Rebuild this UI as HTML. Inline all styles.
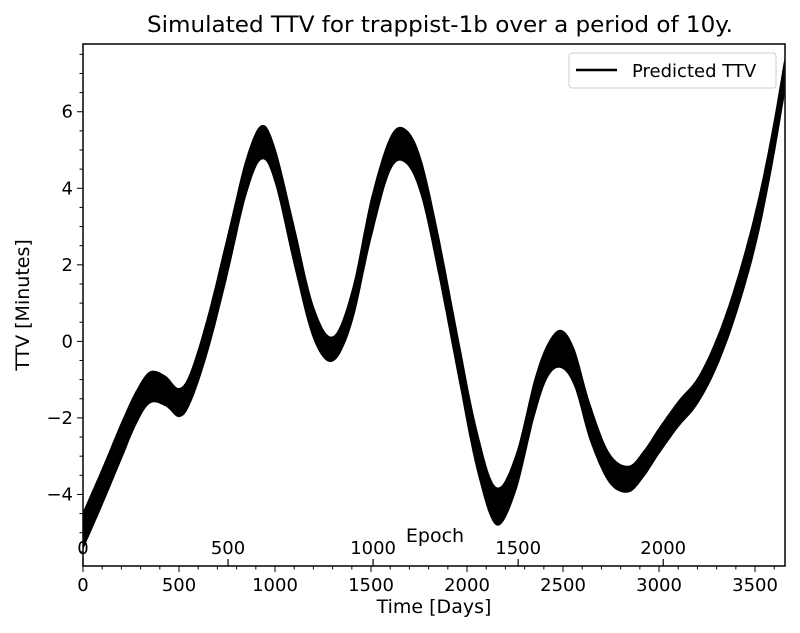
<!DOCTYPE html>
<html><head><meta charset="utf-8"><style>
html,body{margin:0;padding:0;background:#fff;}
svg{display:block;font-family:"DejaVu Sans","Liberation Sans",sans-serif;}
</style></head><body>
<svg id="chart" width="800" height="633" viewBox="0 0 800 633">
<text x="440" y="32" font-size="22" text-anchor="middle" textLength="586" lengthAdjust="spacingAndGlyphs">Simulated TTV for trappist-1b over a period of 10y.</text>
<g id="plot"></g>
<g id="axes"></g>
<text x="434" y="613" font-size="19" text-anchor="middle">Time [Days]</text>
<text x="29" y="305" font-size="19" text-anchor="middle" transform="rotate(-90 29 305)">TTV [Minutes]</text>
<text x="435" y="542" font-size="19" text-anchor="middle">Epoch</text>
<g>
<rect x="569" y="53" width="207" height="35" rx="3" fill="#fff" stroke="#ccc" stroke-width="1"/>
<line x1="576" y1="70" x2="617" y2="70" stroke="#000" stroke-width="2.5"/>
<text x="632" y="77" font-size="18">Predicted TTV</text>
</g>
</svg>
<script>
const times = [0,100,200,280,350,430,500,560,650,750,850,930,1000,1100,1200,1300,1400,1500,1600,1680,1760,1850,1950,2050,2150,2250,2350,2420,2490,2560,2640,2740,2840,2920,3000,3100,3200,3300,3400,3500,3580,3653];
const center = [-4.95,-3.8,-2.6,-1.7,-1.2,-1.3,-1.6,-1.2,0.2,2.2,4.3,5.2,4.6,2.5,0.5,-0.2,0.9,3.2,4.9,5.1,4.3,2.3,-0.3,-2.8,-4.3,-3.5,-1.5,-0.5,-0.2,-0.7,-2.1,-3.3,-3.6,-3.2,-2.6,-1.9,-1.3,-0.3,1.1,2.9,4.8,6.9];
const halfWidth = [0.5,0.5,0.5,0.45,0.42,0.4,0.38,0.42,0.5,0.55,0.5,0.45,0.48,0.55,0.45,0.33,0.45,0.55,0.45,0.45,0.5,0.55,0.55,0.55,0.5,0.5,0.5,0.45,0.5,0.5,0.5,0.4,0.35,0.35,0.35,0.35,0.35,0.4,0.45,0.5,0.5,0.5];
const xTicks = [0,500,1000,1500,2000,2500,3000,3500];
const yTicks = [-4,-2,0,2,4,6];
const epochTicks = [0,500,1000,1500,2000];
const epochPeriod = 1.51087;

const L=83,R=785,T=44,B=566, XMAX=3656, YMIN=-5.87, YMAX=7.77;
const xs = t => L + t/XMAX*(R-L);
const ys = v => B - (v-YMIN)/(YMAX-YMIN)*(B-T);
const NS="http://www.w3.org/2000/svg";
function el(tag, attrs, parent){const e=document.createElementNS(NS,tag);for(const k in attrs)e.setAttribute(k,attrs[k]);parent.appendChild(e);return e;}

function smoothPts(vals){
  const pts=[];
  for(let i=0;i<times.length-1;i++){
    const p0=i>0?i-1:i, p3=i+2<times.length?i+2:i+1;
    for(let s=0;s<10;s++){
      const u=s/10;
      const cr=(a,b,c,d)=>0.5*((2*b)+(-a+c)*u+(2*a-5*b+4*c-d)*u*u+(-a+3*b-3*c+d)*u*u*u);
      pts.push([cr(times[p0],times[i],times[i+1],times[p3]), cr(vals[p0],vals[i],vals[i+1],vals[p3])]);
    }
  }
  pts.push([times[times.length-1], vals[vals.length-1]]);
  return pts;
}
const upper = center.map((c,i)=>c+halfWidth[i]);
const lower = center.map((c,i)=>c-halfWidth[i]);
const up = smoothPts(upper), lo = smoothPts(lower).reverse();
const all = up.concat(lo).map(p=>xs(p[0]).toFixed(1)+","+ys(p[1]).toFixed(1)).join(" ");
const plot=document.getElementById('plot');
const clip=el('clipPath',{id:'pc'},plot); el('rect',{x:L,y:T,width:R-L,height:B-T},clip);
const band=el('polygon',{points:all,fill:'#000','clip-path':'url(#pc)'},plot);



const axes=document.getElementById('axes');
const frame=el('rect',{x:L,y:T,width:R-L,height:B-T,fill:'none',stroke:'#000','stroke-width':1.5},axes);


for(let t=0;t<=XMAX;t+=100){const big=t%500===0;el('line',{x1:xs(t),x2:xs(t),y1:B,y2:B+(big?6:3.5),stroke:'#000'},axes);}
xTicks.forEach(t=>{const tx=el('text',{x:xs(t),y:B+25,'font-size':18,'text-anchor':'middle'},axes);tx.textContent=t;

});
for(let v=-5.5;v<=7.5;v+=0.5){const big=Math.abs(v%2)<1e-9;el('line',{x1:L,x2:L-(big?6:3.5),y1:ys(v),y2:ys(v),stroke:'#000'},axes);}
yTicks.forEach(v=>{const tx=el('text',{x:L-10,y:ys(v)+6,'font-size':18,'text-anchor':'end'},axes);tx.textContent=v<0?'\u2212'+(-v):v;

});
// epoch secondary axis, drawn on the bottom spine pointing up
epochTicks.forEach(e=>{
  el('line',{x1:xs(e*epochPeriod),x2:xs(e*epochPeriod),y1:B,y2:B-7,stroke:'#000','stroke-width':1.2},axes);
  const tx=el('text',{x:xs(e*epochPeriod),y:B-12,'font-size':18,'text-anchor':'middle'},axes);tx.textContent=e;
  
  });
</script>
</body></html>
